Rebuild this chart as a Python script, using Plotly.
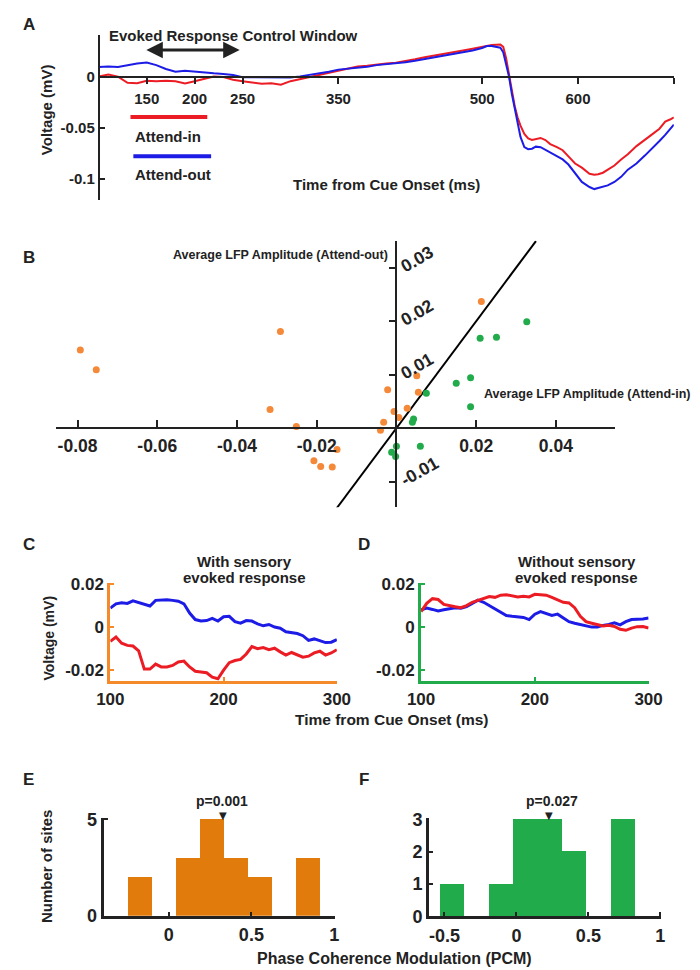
import plotly.graph_objects as go

W, H = 700, 970
FONT = "Liberation Sans, Arial, sans-serif"
RED = "#ec1c24"
BLUE = "#1c1ce6"
ORANGE_DOT = "#f5893a"
ORANGE = "#f58a2a"
ORANGE_BAR = "#e07b0c"
GREEN = "#22ab4a"

# ---- panel A: average LFP around cue onset (mV)
time_a = [100, 110, 120, 130, 140, 150, 160, 170, 180, 190, 200, 210, 220, 230, 240,
          250, 260, 270, 280, 290, 300, 310, 320, 330, 340, 350, 360, 370, 380, 390,
          400, 410, 420, 430, 440, 450, 460, 470, 480, 490, 500, 505, 510, 515, 519,
          522, 525, 528, 531, 534, 537, 540, 544, 548, 552, 556, 561, 566, 571, 578,
          584, 590, 597, 604, 612, 617, 621, 626, 631, 638, 645, 652, 661, 670, 678,
          685, 691, 696, 700]
attend_in_a = [0.0000, 0.0020, 0.0000, -0.0060, -0.0065, -0.0040, -0.0045, -0.0040, -0.0045, -0.0068,
               -0.0045, -0.0020, 0.0000, -0.0005, -0.0030, -0.0045, -0.0060, -0.0070, -0.0065, -0.0080,
               -0.0045, -0.0025, -0.0005, 0.0015, 0.0035, 0.0055, 0.0080, 0.0099, 0.0105, 0.0120,
               0.0128, 0.0135, 0.0150, 0.0170, 0.0190, 0.0208, 0.0222, 0.0240, 0.0255, 0.0272,
               0.0290, 0.0304, 0.0308, 0.0312, 0.0314, 0.0290, 0.0180, 0.0020, -0.0150, -0.0290,
               -0.0400, -0.0480, -0.0560, -0.0605, -0.0620, -0.0612, -0.0600, -0.0620, -0.0660, -0.0690,
               -0.0720, -0.0780, -0.0850, -0.0890, -0.0950, -0.0960, -0.0955, -0.0940, -0.0910, -0.0870,
               -0.0810, -0.0760, -0.0680, -0.0620, -0.0560, -0.0510, -0.0440, -0.0420, -0.0400]
attend_out_a = [0.0093, 0.0099, 0.0093, 0.0112, 0.0128, 0.0138, 0.0112, 0.0074, 0.0048, 0.0058,
                0.0048, 0.0042, 0.0032, 0.0026, 0.0016, -0.0006, -0.0006, -0.0008, -0.0010, -0.0012,
                -0.0008, 0.0002, 0.0016, 0.0035, 0.0048, 0.0068, 0.0076, 0.0083, 0.0095, 0.0112,
                0.0120, 0.0128, 0.0140, 0.0154, 0.0170, 0.0186, 0.0202, 0.0218, 0.0236, 0.0256,
                0.0280, 0.0298, 0.0300, 0.0294, 0.0282, 0.0237, 0.0130, 0.0000, -0.0170, -0.0310,
                -0.0460, -0.0590, -0.0690, -0.0710, -0.0705, -0.0685, -0.0690, -0.0715, -0.0745, -0.0775,
                -0.0810, -0.0860, -0.0940, -0.1030, -0.1080, -0.1100, -0.1090, -0.1080, -0.1064, -0.1030,
                -0.0980, -0.0910, -0.0850, -0.0770, -0.0700, -0.0630, -0.0570, -0.0510, -0.0470]
ticks_a = [150, 200, 250, 350, 500, 600, 700]
ticklabels_a = ["150", "200", "250", "350", "500", "600", ""]
window_a = [148, 247]

# ---- panel B: average LFP amplitude, attend-in (x) vs attend-out (y)
with_evoked_in = [-0.0793, -0.0753, -0.0291, -0.0317, -0.0251, -0.0149, -0.0207, -0.0190, -0.0161,
                  0.0213, 0.0051, -0.0022, 0.0055, -0.0006, 0.0027, 0.0006, -0.0032, -0.0040]
with_evoked_out = [0.0146, 0.0109, 0.0181, 0.0035, 0.0003, -0.0040, -0.0061, -0.0072, -0.0073,
                   0.0237, 0.0098, 0.0072, 0.0067, 0.0031, 0.0037, 0.0020, 0.0011, -0.0004]
without_evoked_in = [0.0327, 0.0210, 0.0251, 0.0186, 0.0150, 0.0186, 0.0075, 0.0043, 0.0040,
                     0.0060, 0.0000, -0.0012, -0.0002]
without_evoked_out = [0.0199, 0.0168, 0.0170, 0.0094, 0.0084, 0.0040, 0.0065, 0.0017, 0.0011,
                      -0.0034, -0.0034, -0.0045, -0.0053]
unity = [-0.015, 0.035]

# ---- panels C and D: control window traces (mV)
time_cd = [100, 105, 110, 115, 120, 125, 130, 135, 140, 145, 150, 155, 160, 165, 170, 175, 180,
           185, 190, 195, 200, 205, 210, 215, 220, 225, 230, 235, 240, 245, 250, 255, 260, 265,
           270, 275, 280, 285, 290, 295, 300]
c_attend_in = [-0.0066, -0.0046, -0.0075, -0.0085, -0.0088, -0.0110, -0.0195, -0.0195, -0.0172,
               -0.0185, -0.0185, -0.0178, -0.0162, -0.0158, -0.0185, -0.0205, -0.0208, -0.0212,
               -0.0232, -0.0240, -0.0200, -0.0165, -0.0155, -0.0150, -0.0125, -0.0090, -0.0100,
               -0.0095, -0.0105, -0.0098, -0.0115, -0.0130, -0.0118, -0.0130, -0.0140, -0.0135,
               -0.0120, -0.0112, -0.0130, -0.0120, -0.0105]
c_attend_out = [0.0088, 0.0108, 0.0113, 0.0110, 0.0122, 0.0113, 0.0104, 0.0098, 0.0124, 0.0127,
                0.0127, 0.0124, 0.0120, 0.0108, 0.0065, 0.0035, 0.0028, 0.0030, 0.0040, 0.0028,
                0.0048, 0.0050, 0.0025, 0.0018, 0.0030, 0.0028, 0.0015, 0.0006, 0.0012, 0.0000,
                -0.0005, -0.0022, -0.0025, -0.0030, -0.0040, -0.0062, -0.0055, -0.0062, -0.0072,
                -0.0070, -0.0058]
d_attend_in = [0.0072, 0.0110, 0.0132, 0.0128, 0.0105, 0.0098, 0.0094, 0.0090, 0.0100, 0.0115,
               0.0125, 0.0132, 0.0142, 0.0138, 0.0148, 0.0150, 0.0146, 0.0140, 0.0143, 0.0140,
               0.0152, 0.0150, 0.0148, 0.0138, 0.0125, 0.0115, 0.0112, 0.0090, 0.0050, 0.0025,
               0.0018, 0.0010, 0.0005, 0.0008, 0.0003, -0.0010, -0.0015, -0.0005, 0.0002, 0.0003,
               -0.0004]
d_attend_out = [0.0080, 0.0088, 0.0082, 0.0075, 0.0080, 0.0086, 0.0090, 0.0088, 0.0095, 0.0110,
                0.0125, 0.0115, 0.0100, 0.0085, 0.0068, 0.0054, 0.0050, 0.0047, 0.0045, 0.0035,
                0.0060, 0.0072, 0.0062, 0.0054, 0.0060, 0.0042, 0.0025, 0.0018, 0.0012, 0.0003,
                0.0000, 0.0000, 0.0008, 0.0012, 0.0020, 0.0010, 0.0025, 0.0035, 0.0035, 0.0038,
                0.0042]

# ---- panels E and F: PCM histograms
pcm_bins_e = [-0.1755, -0.0305, 0.1145, 0.2595, 0.4045, 0.5495, 0.6945, 0.8395]
pcm_counts_e = [2, 0, 3, 5, 3, 2, 0, 3]
pcm_width_e = 0.145
pcm_mean_e = 0.328
pcm_bins_f = [-0.448, -0.278, -0.108, 0.062, 0.232, 0.402, 0.572, 0.742]
pcm_counts_f = [1, 0, 1, 3, 3, 2, 0, 3]
pcm_width_f = 0.17
pcm_mean_f = 0.228


def px(x):
    return x / W


def py(y):
    return 1 - y / H


def axis(domain, rng, color="#222", width=2, ticks="inside", ticklen=5, size=15, **kw):
    d = dict(domain=domain, range=rng, showline=True, linecolor=color, linewidth=width,
             ticks=ticks, ticklen=ticklen, tickwidth=2, tickcolor=color,
             showgrid=False, zeroline=False, fixedrange=True,
             tickfont=dict(family=FONT, size=size, color="#222", weight="bold"))
    d.update(kw)
    return d


fig = go.Figure()

# A
fig.add_trace(go.Scatter(x=time_a, y=attend_in_a, mode="lines",
                         line=dict(color=RED, width=2), xaxis="x", yaxis="y"))
fig.add_trace(go.Scatter(x=time_a, y=attend_out_a, mode="lines",
                         line=dict(color=BLUE, width=2), xaxis="x", yaxis="y"))
# B
fig.add_trace(go.Scatter(x=unity, y=unity, mode="lines",
                         line=dict(color="black", width=2), xaxis="x2", yaxis="y2"))
fig.add_trace(go.Scatter(x=with_evoked_in, y=with_evoked_out, mode="markers",
                         marker=dict(color=ORANGE_DOT, size=7), xaxis="x2", yaxis="y2"))
fig.add_trace(go.Scatter(x=without_evoked_in, y=without_evoked_out, mode="markers",
                         marker=dict(color=GREEN, size=7), xaxis="x2", yaxis="y2"))
# C, D
for ax, red, blue in [("3", c_attend_in, c_attend_out), ("4", d_attend_in, d_attend_out)]:
    fig.add_trace(go.Scatter(x=time_cd, y=blue, mode="lines", line=dict(color=BLUE, width=3),
                             xaxis="x" + ax, yaxis="y" + ax, cliponaxis=False))
    fig.add_trace(go.Scatter(x=time_cd, y=red, mode="lines", line=dict(color=RED, width=3),
                             xaxis="x" + ax, yaxis="y" + ax, cliponaxis=False))
# E, F
fig.add_trace(go.Bar(x=pcm_bins_e, y=pcm_counts_e, width=pcm_width_e,
                     marker=dict(color=ORANGE_BAR, line_width=0), xaxis="x5", yaxis="y5"))
fig.add_trace(go.Bar(x=pcm_bins_f, y=pcm_counts_f, width=pcm_width_f,
                     marker=dict(color=GREEN, line_width=0), xaxis="x6", yaxis="y6"))

fig.update_layout(
    width=W, height=H, margin=dict(l=0, r=0, t=0, b=0),
    paper_bgcolor="white", plot_bgcolor="white", showlegend=False, bargap=0,
    font=dict(family=FONT, color="#222"),
    xaxis=axis([px(80), px(679)], [100, 700], ticks="outside", ticklen=6, size=15,
               anchor="free", position=py(61), tickvals=ticks_a, ticktext=ticklabels_a,
               ticklabelstandoff=2),
    yaxis=axis([py(187), py(18)], [-0.121, 0.041], size=15, anchor="free", position=px(80),
               tickvals=[0, -0.05, -0.1], ticktext=["0", "-0.05", "-0.1"]),
    xaxis2=axis([px(35), px(618)], [-0.0855, 0.0549], ticklen=7, size=17.5,
                anchor="free", position=py(419.3), ticklabelstandoff=2,
                tickvals=[-0.08, -0.06, -0.04, -0.02, 0.02, 0.04],
                ticktext=["-0.08", "-0.06", "-0.04", "-0.02", "0.02", "0.04"]),
    yaxis2=axis([py(500), py(228)], [-0.0148, 0.0351], ticklen=6, size=17.5,
                anchor="free", position=px(390), side="right", tickangle=-30,
                tickvals=[-0.01, 0.01, 0.02, 0.03], ticktext=["-0.01", "0.01", "0.02", "0.03"]),
    xaxis3=axis([px(92), px(328)], [100, 300], color=ORANGE, width=3, ticklen=4, size=17,
                anchor="y3", tickvals=[100, 200, 300], ticklabelstandoff=1),
    yaxis3=axis([py(677), py(577)], [-0.0249, 0.0206], color=ORANGE, width=3, ticklen=4,
                size=17, anchor="x3", tickvals=[-0.02, 0, 0.02], ticktext=["-0.02", "0", "0.02"]),
    xaxis4=axis([px(415.7), px(652.7)], [100, 300], color=GREEN, width=3, ticklen=4, size=17,
                anchor="y4", tickvals=[100, 200, 300], ticklabelstandoff=1),
    yaxis4=axis([py(677), py(577)], [-0.0249, 0.0206], color=GREEN, width=3, ticklen=4,
                size=17, anchor="x4", tickvals=[-0.02, 0, 0.02], ticktext=["-0.02", "0", "0.02"]),
    xaxis5=axis([px(85), px(326)], [-0.393, 1.005], width=3, ticklen=4, size=18,
                anchor="y5", tickvals=[0, 0.5, 1], ticktext=["0", "0.5", "1"], ticklabelstandoff=1),
    yaxis5=axis([py(916.7), py(817)], [0, 5.07], width=3, ticklen=4, size=18,
                anchor="x5", tickvals=[0, 5]),
    xaxis6=axis([px(424), px(666)], [-0.607, 1.007], width=3, ticklen=4, size=18,
                anchor="y6", tickvals=[-0.5, 0, 0.5, 1], ticktext=["-0.5", "0", "0.5", "1"],
                ticklabelstandoff=1),
    yaxis6=axis([py(917.3), py(817.3)], [0, 3.03], width=3, ticklen=4, size=18,
                anchor="x6", tickvals=[0, 1, 2, 3]),
)

# legend swatches for panel A
fig.add_shape(type="line", xref="paper", yref="paper", x0=px(113), x1=px(193), y0=py(102),
              y1=py(102), line=dict(color=RED, width=4))
fig.add_shape(type="line", xref="paper", yref="paper", x0=px(116), x1=px(197), y0=py(142),
              y1=py(142), line=dict(color=BLUE, width=4))

# control window arrow
fig.add_annotation(x=window_a[1], y=0.026, ax=window_a[0], ay=0.026, xref="x", yref="y",
                   axref="x", ayref="y", text="", showarrow=True, arrowside="end+start",
                   arrowhead=2, arrowsize=1.1, arrowwidth=3, arrowcolor="#222")

# mean PCM markers
for xr, mean in [("x5", pcm_mean_e), ("x6", pcm_mean_f)]:
    fig.add_annotation(text="▼", x=mean, y=py(814), xref=xr, yref="paper", showarrow=False,
                       xanchor="center", yanchor="middle",
                       font=dict(family="DejaVu Sans", size=10, color="#222"))


def label(text, x, y, size=13, angle=0, xanchor="center"):
    fig.add_annotation(text=text, x=px(x), y=py(y), xref="paper", yref="paper",
                       showarrow=False, textangle=angle, xanchor=xanchor, yanchor="middle",
                       font=dict(family=FONT, size=size, color="#222", weight="bold"))


label("A", 7, 8, 17)
label("B", 7, 245, 17)
label("C", 7, 538, 17)
label("D", 356, 538, 17)
label("E", 7, 778, 17)
label("F", 356, 778, 17)

label("Evoked Response Control Window", 220, 19, 15)
label("Attend-in", 116, 122, 15, xanchor="left")
label("Attend-out", 116, 161, 15, xanchor="left")
label("Time from Cue Onset (ms)", 380, 171, 15)
label("Voltage (mV)", 25, 95, 15, angle=-90)

label("Average LFP Amplitude (Attend-out)", 383, 243, 12.5, xanchor="right")
label("Average LFP Amplitude (Attend-in)", 699, 385, 12.5, xanchor="right")

label("With sensory", 232, 555, 15)
label("evoked response", 232, 572, 15)
label("Without sensory", 578, 555, 15)
label("evoked response", 578, 572, 15)
label("Voltage (mV)", 28, 633, 14, angle=-90)
label("Time from Cue Onset (ms)", 385, 717, 15.5)

label("p=0.001", 208, 800, 14)
label("p=0.027", 552, 800, 14)
label("Number of sites", 25, 867, 15, angle=-90)
label("Phase Coherence Modulation (PCM)", 388, 960, 16)

fig.write_html("out.html")
